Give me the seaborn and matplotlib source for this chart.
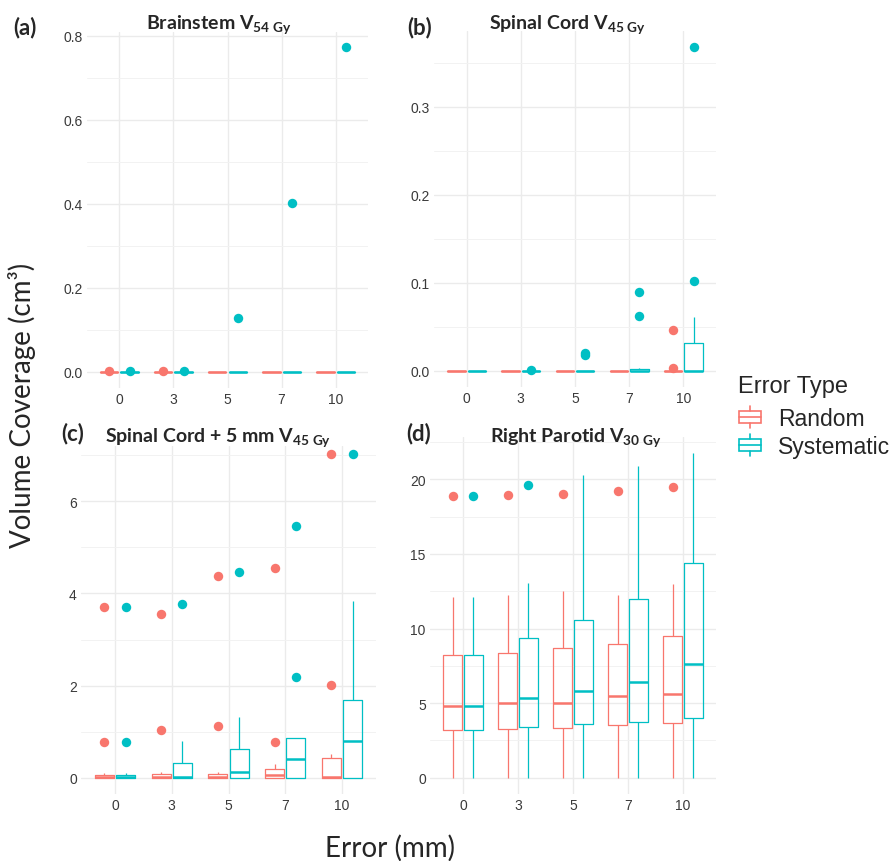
import numpy as np
import pandas as pd
import matplotlib
matplotlib.use("Agg")
import matplotlib.pyplot as plt
import seaborn as sns
from matplotlib.ticker import MultipleLocator, FormatStrFormatter
from matplotlib.patches import Rectangle, Patch
from matplotlib.lines import Line2D
from matplotlib.legend_handler import HandlerBase

# ---------------- data ----------------
errors = ["0", "3", "5", "7", "10"]
types = ["Random", "Systematic"]
colors = {"Random": "#F8766D", "Systematic": "#00BFC4"}

# (a) Brainstem V54Gy
a_rand_lo = [0, 0, 0, 0, 0]
a_rand_q1 = [0, 0, 0, 0, 0]
a_rand_med = [0, 0, 0, 0, 0]
a_rand_q3 = [0, 0, 0, 0, 0]
a_rand_hi = [0, 0, 0, 0, 0]
a_rand_out = [[0.001], [0.001], [], [], []]
a_sys_lo = [0, 0, 0, 0, 0]
a_sys_q1 = [0, 0, 0, 0, 0]
a_sys_med = [0, 0, 0, 0, 0]
a_sys_q3 = [0, 0, 0, 0, 0]
a_sys_hi = [0, 0, 0, 0, 0]
a_sys_out = [[0.001], [0.001], [0.127], [0.401], [0.772]]

# (b) Spinal Cord V45Gy
b_rand_lo = [0, 0, 0, 0, 0]
b_rand_q1 = [0, 0, 0, 0, 0]
b_rand_med = [0, 0, 0, 0, 0]
b_rand_q3 = [0, 0, 0, 0, 0]
b_rand_hi = [0, 0, 0, 0, 0]
b_rand_out = [[], [], [], [], [0.0034, 0.046]]
b_sys_lo = [0, 0, 0, 0, 0]
b_sys_q1 = [0, 0, 0, 0, 0]
b_sys_med = [0, 0, 0, 0, 0]
b_sys_q3 = [0, 0, 0, 0.0015, 0.032]
b_sys_hi = [0, 0, 0, 0.003, 0.061]
b_sys_out = [[], [0.0005], [0.018, 0.020], [0.062, 0.090], [0.102, 0.368]]

# (c) Spinal Cord + 5 mm V45Gy
c_rand_lo = [0, 0, 0, 0, 0]
c_rand_q1 = [0, 0, 0, 0, 0]
c_rand_med = [0.01, 0.01, 0.02, 0.06, 0.02]
c_rand_q3 = [0.07, 0.08, 0.08, 0.19, 0.44]
c_rand_hi = [0.11, 0.12, 0.12, 0.31, 0.52]
c_rand_out = [[0.77, 3.70], [1.03, 3.55], [1.13, 4.38], [0.78, 4.55], [2.01, 7.03]]
c_sys_lo = [0, 0, 0, 0, 0]
c_sys_q1 = [0, 0, 0, 0, 0]
c_sys_med = [0.01, 0.02, 0.13, 0.40, 0.79]
c_sys_q3 = [0.07, 0.33, 0.63, 0.86, 1.69]
c_sys_hi = [0.11, 0.79, 1.33, 0.86, 3.83]
c_sys_out = [[0.77, 3.70], [3.77], [4.47], [2.19, 5.47], [7.03]]

# (d) Right Parotid V30Gy
d_rand_lo = [0, 0, 0, 0, 0]
d_rand_q1 = [3.19, 3.26, 3.33, 3.53, 3.64]
d_rand_med = [4.84, 5.04, 4.98, 5.49, 5.63]
d_rand_q3 = [8.21, 8.35, 8.68, 8.93, 9.49]
d_rand_hi = [12.12, 12.25, 12.50, 12.25, 12.99]
d_rand_out = [[18.88], [18.93], [19.02], [19.24], [19.49]]
d_sys_lo = [0, 0, 0, 0, 0]
d_sys_q1 = [3.19, 3.39, 3.59, 3.77, 4.02]
d_sys_med = [4.84, 5.33, 5.78, 6.43, 7.63]
d_sys_q3 = [8.21, 9.35, 10.56, 11.99, 14.42]
d_sys_hi = [12.12, 13.08, 20.27, 20.87, 21.74]
d_sys_out = [[18.88], [19.64], [], [], []]

panel_titles = [r"Brainstem V$_{\mathbf{54\ Gy}}$",
                r"Spinal Cord V$_{\mathbf{45\ Gy}}$",
                r"Spinal Cord + 5 mm V$_{\mathbf{45\ Gy}}$",
                r"Right Parotid V$_{\mathbf{30\ Gy}}$"]
panel_tags = ["(a)", "(b)", "(c)", "(d)"]

# ---------------- helpers ----------------
REP = 10  # each read summary value is given equal weight so quartiles land exactly on it


def long_frame(rand, sysv):
    rows = []
    for tname, (lo, q1, med, q3, hi, out) in zip(types, [rand, sysv]):
        for i, e in enumerate(errors):
            vals = [lo[i], q1[i], med[i], q3[i], hi[i]] * REP + list(out[i])
            for v in vals:
                rows.append((e, tname, v))
    return pd.DataFrame(rows, columns=["Error", "Type", "Value"])


frames = [
    long_frame((a_rand_lo, a_rand_q1, a_rand_med, a_rand_q3, a_rand_hi, a_rand_out),
               (a_sys_lo, a_sys_q1, a_sys_med, a_sys_q3, a_sys_hi, a_sys_out)),
    long_frame((b_rand_lo, b_rand_q1, b_rand_med, b_rand_q3, b_rand_hi, b_rand_out),
               (b_sys_lo, b_sys_q1, b_sys_med, b_sys_q3, b_sys_hi, b_sys_out)),
    long_frame((c_rand_lo, c_rand_q1, c_rand_med, c_rand_q3, c_rand_hi, c_rand_out),
               (c_sys_lo, c_sys_q1, c_sys_med, c_sys_q3, c_sys_hi, c_sys_out)),
    long_frame((d_rand_lo, d_rand_q1, d_rand_med, d_rand_q3, d_rand_hi, d_rand_out),
               (d_sys_lo, d_sys_q1, d_sys_med, d_sys_q3, d_sys_hi, d_sys_out)),
]

# ---------------- style ----------------
sns.set_theme(style="whitegrid")
plt.rcParams["font.family"] = ["Liberation Sans", "DejaVu Sans"]
plt.rcParams["mathtext.fontset"] = "custom"
plt.rcParams["mathtext.rm"] = "Lato"
plt.rcParams["mathtext.bf"] = "Lato:bold"
plt.rcParams["mathtext.it"] = "Lato:italic"

W, H = 894, 862
fig = plt.figure(figsize=(W / 100, H / 100), dpi=100)
fig.patch.set_facecolor("white")

# axes rectangles in pixel coords (left, right, top, bottom)
rects = [(87, 368, 33, 389), (434, 716, 32, 388), (81, 376, 447, 795), (430, 716, 438, 795)]
ylims = [(-0.0385, 0.8085), (-0.0184, 0.3864), (-0.35, 7.2), (-1.087, 22.83)]
majors = [0.2, 0.1, 2, 5]
fmts = ["%.1f", "%.1f", "%d", "%d"]
title_pos = [(219, 29), (567, 29), (218, 442), (576, 442)]
tag_pos = [(25, 28), (420, 28), (73, 434), (419, 434)]

axes = []
for k in range(4):
    l, r, t, b = rects[k]
    ax = fig.add_axes([l / W, 1 - b / H, (r - l) / W, (b - t) / H])
    axes.append(ax)
    sns.boxplot(data=frames[k], x="Error", y="Value", hue="Type",
                order=errors, hue_order=types, palette=colors, saturation=1,
                fill=False, width=0.75, gap=0.1, whis=1.5, linewidth=0.9,
                fliersize=6.8, flierprops={"marker": "o"},
                medianprops={"linewidth": 1.8}, showcaps=False,
                legend=False, ax=ax)
    for ln in ax.lines:
        if ln.get_marker() == "o":
            ln.set_markerfacecolor(ln.get_markeredgecolor())
            ln.set_markeredgewidth(0)
    ax.set_xlim(-0.6, 4.6)
    ax.set_ylim(*ylims[k])
    ax.yaxis.set_major_locator(MultipleLocator(majors[k]))
    ax.yaxis.set_minor_locator(MultipleLocator(majors[k] / 2))
    ax.yaxis.set_major_formatter(FormatStrFormatter(fmts[k]))
    ax.set_facecolor("white")
    ax.grid(True, which="major", axis="both", color="#EBEBEB", linewidth=1.0)
    ax.grid(True, which="minor", axis="y", color="#F2F2F2", linewidth=0.7)
    ax.grid(False, which="minor", axis="x")
    ax.set_axisbelow(True)
    for s in ax.spines.values():
        s.set_visible(False)
    ax.tick_params(axis="both", which="both", length=0, labelsize=10,
                   labelcolor="#3A3A3A")
    ax.tick_params(axis="x", pad=3)
    ax.tick_params(axis="y", pad=3)
    ax.set_xlabel("")
    ax.set_ylabel("")
    tx, ty = title_pos[k]
    fig.text(tx / W, 1 - ty / H, panel_titles[k], ha="center", va="baseline",
             fontsize=14, fontweight="bold", family="Lato")
    gx, gy = tag_pos[k]
    fig.text(gx / W, 1 - gy / H, panel_tags[k], ha="center", va="center",
             fontsize=16, fontweight="bold", family="Lato")

fig.text(22 / W, 1 - 405 / H, "Volume Coverage (cm³)", rotation=90,
         ha="center", va="center", fontsize=20, family="Lato")
fig.text(390 / W, 1 - 848 / H, "Error (mm)", ha="center", va="center",
         fontsize=20, family="Lato")


# ---------------- legend ----------------
class BoxGlyph(HandlerBase):
    def create_artists(self, legend, orig_handle, xdescent, ydescent,
                       width, height, fontsize, trans):
        col = orig_handle.get_edgecolor()
        x0, y0 = -xdescent, -ydescent
        box = Rectangle((x0, y0 + 0.15 * height), width, 0.7 * height,
                        facecolor="white", edgecolor=col, lw=1.2, transform=trans)
        med = Line2D([x0, x0 + width], [y0 + 0.5 * height] * 2, color=col,
                     lw=1.2, transform=trans)
        w1 = Line2D([x0 + width / 2] * 2, [y0 - 0.15 * height, y0 + 0.15 * height],
                    color=col, lw=1.2, transform=trans)
        w2 = Line2D([x0 + width / 2] * 2, [y0 + 0.85 * height, y0 + 1.15 * height],
                    color=col, lw=1.2, transform=trans)
        return [box, med, w1, w2]


fig.text(738 / W, 1 - 387 / H, "Error Type", ha="left", va="center",
         fontsize=17)
handles = [Patch(edgecolor=colors[t], facecolor="white", label=t) for t in types]
leg = fig.legend(handles=handles, labels=types,
                 loc="upper left", bbox_to_anchor=(739 / W, 1 - 408 / H),
                 frameon=False, fontsize=16.5,
                 handler_map={Patch: BoxGlyph()}, handlelength=0.95,
                 handleheight=0.8, handletextpad=0.75, labelspacing=0.22,
                 borderpad=0, borderaxespad=0)

fig.savefig("out.png", dpi=100, facecolor="white")
